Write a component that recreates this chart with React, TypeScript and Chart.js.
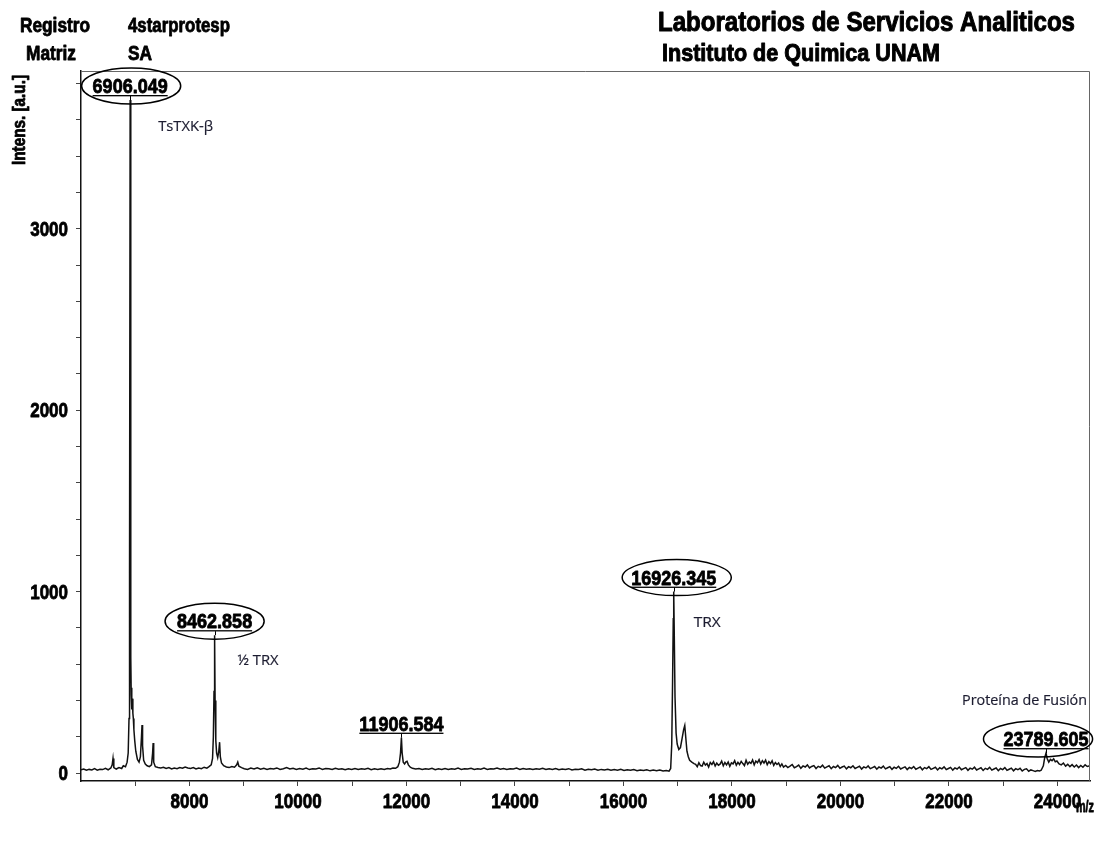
import React, { useEffect, useRef } from "react";
import { Chart, registerables } from "chart.js";

Chart.register(...registerables);

// ---- spectrum data: [m/z, intensity] ----
const segStart: [number, number][] = [
  [6000, 18], [6050, 22], [6100, 15], [6150, 20], [6200, 17], [6250, 24], [6300, 16], [6350, 21],
  [6400, 19], [6450, 26], [6500, 18], [6550, 28], [6575, 45], [6590, 80], [6605, 30], [6650, 22],
  [6700, 30], [6750, 25], [6780, 40], [6820, 35], [6850, 60],
];
const segTsTXK: [number, number][] = [
  [6870, 110], [6885, 300], [6895, 1100], [6906.049, 3710], [6915, 1200], [6920, 640], [6926, 430],
  [6932, 470], [6940, 350], [6948, 410], [6956, 330], [6965, 300], [6975, 240], [6990, 180], [7010, 120],
  [7040, 75], [7070, 60], [7095, 90], [7115, 200], [7125, 265], [7135, 150], [7155, 70], [7185, 50],
  [7220, 40], [7260, 35], [7300, 45], [7320, 110], [7330, 165], [7340, 60], [7370, 35], [7420, 30],
  [7470, 28], [7520, 32], [7570, 25], [7620, 30], [7670, 22], [7720, 27], [7770, 24], [7820, 30],
  [7870, 26], [7920, 33], [7970, 28],
];
const segHalfTRX: [number, number][] = [
  [8020, 25], [8070, 30], [8120, 22], [8170, 28], [8220, 24], [8270, 32], [8320, 27], [8360, 35],
  [8400, 45], [8425, 80], [8440, 200], [8452, 450], [8462.858, 760], [8472, 400], [8485, 180],
  [8500, 110], [8520, 85], [8540, 120], [8555, 170], [8568, 90], [8590, 55], [8630, 40], [8680, 33],
  [8730, 30], [8780, 36], [8830, 32], [8870, 45], [8890, 60], [8910, 38], [8960, 30],
];
const segMid1: [number, number][] = [
  [9010, 24], [9070, 20], [9130, 27], [9190, 22], [9250, 29], [9310, 21], [9370, 26], [9430, 19],
  [9490, 25], [9550, 22], [9610, 28], [9670, 20], [9730, 24], [9790, 30], [9850, 22], [9910, 26],
  [9970, 20], [10030, 25], [10090, 21], [10150, 27], [10210, 19], [10270, 24], [10330, 22], [10390, 28],
  [10450, 20], [10510, 25], [10570, 23], [10630, 19], [10690, 26], [10750, 21], [10810, 24], [10870, 18],
  [10930, 23], [10990, 20], [11050, 25], [11110, 19], [11170, 24], [11230, 21], [11290, 26], [11350, 18],
  [11410, 23], [11470, 20], [11530, 24], [11590, 19], [11650, 25], [11700, 22], [11750, 28], [11800, 26],
  [11840, 35], [11870, 60], [11890, 110], [11906.584, 195], [11920, 110], [11940, 60], [11965, 50],
  [11990, 62], [12010, 65], [12035, 45], [12070, 32], [12110, 26],
];
const segMid2: [number, number][] = [
  [12170, 22], [12230, 25], [12290, 19], [12350, 24], [12410, 21], [12470, 26], [12530, 18], [12590, 23],
  [12650, 20], [12710, 25], [12770, 19], [12830, 24], [12890, 21], [12950, 27], [13010, 20], [13070, 24],
  [13130, 22], [13190, 26], [13250, 19], [13310, 23], [13370, 21], [13430, 27], [13490, 20], [13550, 24],
  [13610, 22], [13670, 28], [13730, 21], [13790, 25], [13850, 19], [13910, 24], [13970, 22], [14030, 27],
  [14090, 20], [14150, 25], [14210, 21], [14270, 24], [14330, 19], [14390, 23], [14450, 21], [14510, 26],
  [14570, 19], [14630, 24], [14690, 20], [14750, 25], [14810, 18], [14870, 22], [14930, 20], [14990, 24],
  [15050, 17], [15110, 21], [15170, 19], [15230, 23], [15290, 16], [15350, 21], [15410, 18], [15470, 22],
  [15530, 16], [15590, 20], [15650, 17], [15710, 21], [15770, 15], [15830, 19], [15890, 16], [15950, 20],
  [16010, 14], [16070, 18], [16130, 15], [16190, 19], [16250, 13], [16310, 17], [16370, 14], [16430, 18],
  [16490, 12], [16550, 16], [16610, 13], [16670, 17], [16730, 11], [16790, 14], [16840, 10], [16870, 25],
];
const segTRX: [number, number][] = [
  [16890, 160], [16905, 500], [16918, 850], [16926.345, 1000], [16935, 800], [16950, 420], [16970, 220],
  [16990, 160], [17020, 130], [17050, 140], [17080, 190], [17110, 240], [17130, 262], [17150, 190],
  [17170, 120], [17195, 90], [17220, 70], [17260, 60], [17300, 52],
];
const segHump: [number, number][] = [
  [17330, 48], [17360, 35], [17390, 57], [17420, 41], [17450, 38], [17480, 60], [17510, 44], [17540, 52],
  [17570, 33], [17600, 58], [17630, 47], [17660, 62], [17690, 39], [17720, 55], [17750, 43], [17780, 49],
  [17810, 66], [17840, 40], [17870, 58], [17900, 45], [17930, 61], [17960, 37], [17990, 56], [18020, 50],
  [18050, 68], [18080, 43], [18110, 59], [18140, 47], [18170, 64], [18200, 52], [18230, 41], [18260, 70],
  [18290, 48], [18320, 60], [18350, 53], [18380, 72], [18410, 45], [18440, 66], [18470, 57], [18500, 74],
  [18530, 49], [18560, 68], [18590, 55], [18620, 71], [18650, 46], [18680, 63], [18710, 52], [18740, 67],
  [18770, 42], [18800, 58], [18830, 47], [18860, 55], [18890, 36], [18920, 50], [18950, 33],
];
const segTail: [number, number][] = [
  [18990, 42], [19030, 30], [19070, 38], [19110, 47], [19150, 29], [19190, 35], [19230, 44], [19270, 26],
  [19310, 39], [19350, 33], [19390, 45], [19430, 28], [19470, 36], [19510, 41], [19550, 25], [19590, 37],
  [19630, 31], [19670, 43], [19710, 27], [19750, 34], [19790, 40], [19830, 24], [19870, 36], [19910, 30],
  [19950, 42], [19990, 26], [20030, 33], [20070, 38], [20110, 23], [20150, 35], [20190, 29], [20230, 40],
  [20270, 25], [20310, 31], [20350, 37], [20390, 22], [20430, 34], [20470, 28], [20510, 39], [20550, 24],
  [20590, 30], [20630, 36], [20670, 21], [20710, 33], [20750, 27], [20790, 38], [20830, 23], [20870, 29],
  [20910, 35], [20950, 20], [20990, 32], [21030, 26], [21070, 37], [21110, 22], [21150, 28], [21190, 34],
  [21230, 19], [21270, 31], [21310, 25], [21350, 36], [21390, 21], [21430, 27], [21470, 33], [21510, 18],
  [21550, 30], [21590, 24], [21630, 35], [21670, 20], [21710, 26], [21750, 32], [21790, 17], [21830, 29],
  [21870, 23], [21910, 34], [21950, 19], [21990, 25], [22030, 31], [22070, 16], [22110, 28], [22150, 22],
  [22190, 33], [22230, 18], [22270, 24], [22310, 30], [22350, 15], [22390, 27], [22430, 21], [22470, 32],
  [22510, 17], [22550, 23], [22590, 29], [22630, 14], [22670, 26], [22710, 20], [22750, 31], [22790, 16],
  [22830, 22], [22870, 28], [22910, 13], [22950, 25], [22990, 19], [23030, 30], [23070, 15], [23110, 21],
  [23150, 27], [23190, 12], [23230, 24], [23270, 18], [23310, 26], [23350, 11], [23390, 20], [23430, 23],
  [23470, 10], [23510, 17], [23550, 13], [23590, 9], [23630, 14], [23670, 11], [23700, 15],
];
const segFusion: [number, number][] = [
  [23740, 40], [23765, 85], [23789.605, 110], [23810, 80], [23840, 60], [23870, 75], [23900, 68],
  [23930, 78], [23960, 62], [23990, 66], [24030, 50], [24070, 45], [24110, 55], [24150, 38], [24190, 48],
  [24230, 35], [24270, 46], [24310, 33], [24350, 44], [24390, 30], [24430, 42], [24470, 32], [24510, 45],
  [24550, 36], [24600, 40],
];

// ---- peak annotations ----
const peakMz = [6906.049, 8462.858, 11906.584, 16926.345, 23789.605];
const peakIntensity = [3710, 760, 195, 1000, 110];
const peakCircled = [true, true, false, true, true];
const peakNames = ["TsTXK-β", "½ TRX", "", "TRX", "Proteína de Fusión"];

// ---- axes ----
const xRange = [6000, 24600];
const yRange = [-44, 3870];
const xTickMarks = [7000, 8000, 9000, 10000, 11000, 12000, 13000, 14000, 15000, 16000, 17000, 18000, 19000, 20000, 21000, 22000, 23000, 24000];
const xTickLabels = [8000, 10000, 12000, 14000, 16000, 18000, 20000, 22000, 24000];
const yTickMarks = [0, 200, 400, 600, 800, 1000, 1200, 1400, 1600, 1800, 2000, 2200, 2400, 2600, 2800, 3000, 3200, 3400, 3600, 3800];
const yTickLabels = [0, 1000, 2000, 3000];

const SANS = '"Liberation Sans", Arial, sans-serif';
const CAL = '"Open Sans", "Noto Sans", sans-serif';

function paintText(ctx: CanvasRenderingContext2D, text: string, align: CanvasTextAlign, color: string, stroke: number) {
  ctx.textAlign = align;
  ctx.textBaseline = "alphabetic";
  ctx.fillStyle = color;
  ctx.fillText(text, 0, 0);
  if (stroke > 0) {
    ctx.strokeStyle = color;
    ctx.lineWidth = stroke;
    ctx.lineJoin = "round";
    ctx.strokeText(text, 0, 0);
  }
}

function drawFit(ctx: CanvasRenderingContext2D, text: string, x: number, y: number, font: string, width: number, align: CanvasTextAlign = "left", color = "#000", stroke = 0.8) {
  ctx.save();
  ctx.font = font;
  const m = ctx.measureText(text).width;
  ctx.translate(x, y);
  ctx.scale(width / m, 1);
  paintText(ctx, text, align, color, stroke);
  ctx.restore();
}

function drawScaled(ctx: CanvasRenderingContext2D, text: string, x: number, y: number, font: string, sx: number, align: CanvasTextAlign, color = "#000", stroke = 0.8) {
  ctx.save();
  ctx.font = font;
  ctx.translate(x, y);
  ctx.scale(sx, 1);
  paintText(ctx, text, align, color, stroke);
  ctx.restore();
}

const overlay = {
  id: "overlay",
  afterDraw(chart: any) {
    const ctx: CanvasRenderingContext2D = chart.ctx;
    const xs = chart.scales.x;
    const ys = chart.scales.y;
    const a = chart.chartArea;
    ctx.save();
    // frame top / right
    ctx.strokeStyle = "#666";
    ctx.lineWidth = 1;
    ctx.beginPath();
    ctx.moveTo(a.left, a.top + 0.5);
    ctx.lineTo(a.right - 0.5, a.top + 0.5);
    ctx.lineTo(a.right - 0.5, a.bottom);
    ctx.stroke();

    // tick labels
    const tickFont = `bold 20px ${SANS}`;
    yTickLabels.forEach((v) => {
      const py = ys.getPixelForValue(v);
      drawScaled(ctx, String(v), a.left - 13, py + 7, tickFont, 0.85, "right");
    });
    xTickLabels.forEach((v) => {
      const px = xs.getPixelForValue(v);
      drawScaled(ctx, String(v), px, a.bottom + 27, tickFont, 0.85, "center");
    });

    // axis titles
    drawFit(ctx, "m/z", 1076, a.bottom + 31, `bold 17px ${SANS}`, 18);
    ctx.save();
    ctx.translate(25, 165);
    ctx.rotate(-Math.PI / 2);
    drawFit(ctx, "Intens. [a.u.]", 0, 0, `bold 18px ${SANS}`, 90);
    ctx.restore();

    // header
    drawFit(ctx, "Registro", 20, 32, `bold 20px ${SANS}`, 70);
    drawFit(ctx, "4starprotesp", 128, 32, `bold 20px ${SANS}`, 102);
    drawFit(ctx, "Matriz", 26, 60, `bold 20px ${SANS}`, 50);
    drawFit(ctx, "SA", 128, 60, `bold 20px ${SANS}`, 24);
    drawFit(ctx, "Laboratorios de Servicios Analiticos", 658, 31, `bold 27px ${SANS}`, 417, "left", "#000", 1);
    drawFit(ctx, "Instituto de Quimica UNAM", 662, 61, `bold 24px ${SANS}`, 278, "left", "#000", 1);

    // peak labels
    const ellipseDx = [1, 0, 0, 3, -8];
    const nameOffset = [[28, 34], [23, 33], [0, 0], [20, 38], [-84, -45]];
    const nameWidth = [55, 41, 0, 27, 125];
    const labelFont = `bold 20px ${SANS}`;
    peakMz.forEach((mz, i) => {
      const px = xs.getPixelForValue(mz);
      const py = ys.getPixelForValue(peakIntensity[i]);
      const base = py - 3;
      const text = mz.toFixed(3);
      ctx.font = labelFont;
      const w = ctx.measureText(text).width * 0.9;
      drawScaled(ctx, text, px, base - 4, labelFont, 0.9, "center");
      ctx.fillStyle = "#000";
      ctx.fillRect(px - w / 2, base - 2, w, 1.3);
      ctx.strokeStyle = "#000";
      ctx.lineWidth = 1;
      ctx.beginPath();
      ctx.moveTo(Math.round(px) + 0.5, base - 1);
      ctx.lineTo(Math.round(px) + 0.5, py);
      ctx.stroke();
      if (peakCircled[i]) {
        ctx.lineWidth = 1.5;
        ctx.beginPath();
        ctx.ellipse(px + ellipseDx[i], base - 11, w / 2 + 12, 18, 0, 0, Math.PI * 2);
        ctx.stroke();
      }
      if (peakNames[i]) {
        drawFit(ctx, peakNames[i], px + nameOffset[i][0], base + nameOffset[i][1], `15px ${CAL}`, nameWidth[i], "left", "#1c1c30", 0.2);
      }
    });
    ctx.restore();
  },
};

export default function App() {
  const ref = useRef<HTMLCanvasElement>(null);
  useEffect(() => {
    const all = [...segStart, ...segTsTXK, ...segHalfTRX, ...segMid1, ...segMid2, ...segTRX, ...segHump, ...segTail, ...segFusion];
    const points = all.map(([x, y]) => ({ x, y }));
    const chart = new Chart(ref.current as HTMLCanvasElement, {
      type: "line",
      data: {
        datasets: [
          {
            data: points,
            borderColor: "#111",
            borderWidth: 1.5,
            pointRadius: 0,
            fill: false,
            tension: 0,
          },
        ],
      },
      options: {
        animation: false,
        responsive: false,
        devicePixelRatio: 1,
        layout: { padding: { left: 0, top: 71, right: 5, bottom: 0 } },
        plugins: { legend: { display: false }, tooltip: { enabled: false } },
        scales: {
          x: {
            type: "linear",
            min: xRange[0],
            max: xRange[1],
            afterBuildTicks: (s: any) => {
              s.ticks = xTickMarks.map((v) => ({ value: v }));
            },
            afterFit: (s: any) => {
              s.height = 60;
            },
            ticks: { display: false },
            grid: { drawOnChartArea: false, drawTicks: true, tickLength: 5, color: "#444" },
            border: { display: true, color: "#111", width: 1.5 },
          },
          y: {
            type: "linear",
            min: yRange[0],
            max: yRange[1],
            afterBuildTicks: (s: any) => {
              s.ticks = yTickMarks.map((v) => ({ value: v }));
            },
            afterFit: (s: any) => {
              s.width = 81;
            },
            ticks: { display: false },
            grid: { drawOnChartArea: false, drawTicks: true, tickLength: 5, color: "#444" },
            border: { display: true, color: "#111", width: 1.5 },
          },
        },
      },
      plugins: [overlay],
    } as any);
    return () => chart.destroy();
  }, []);
  return (
    <div style={{ position: "absolute", left: 0, top: 0, width: 1095, height: 841, background: "#fff" }}>
      <canvas ref={ref} width={1095} height={841} style={{ display: "block", width: 1095, height: 841 }} />
    </div>
  );
}
